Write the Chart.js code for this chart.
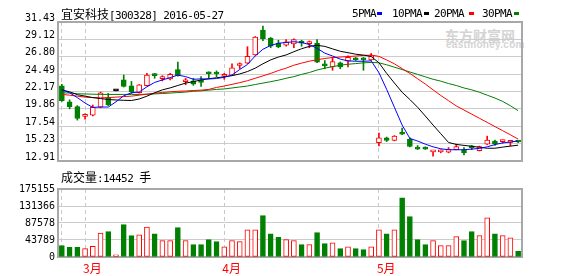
<!DOCTYPE html>
<html lang="zh-CN">
<head>
<meta charset="UTF-8">
<title>宜安科技[300328] 日K</title>
<style>
  body { margin: 0; background: #fff; }
  .wrap { position: relative; width: 578px; height: 276px; overflow: hidden; background: #fff; }
  .wrap canvas { position: absolute; left: 0; }
  .txt { position: absolute; white-space: nowrap; line-height: 12px; color: #000; }
  .cjk { font-family: "Noto Sans CJK SC"; font-size: 12px; }
  .asc { font-family: "DejaVu Sans Mono"; font-size: 11px; letter-spacing: -0.6px; }
  .mk { position: absolute; width: 5px; height: 3px; top: 12px; }
  .wm1 { position: absolute; left: 445px; top: 25px; font: bold 14px "Noto Sans CJK SC"; color: #d4d4d4; }
  .wm2 { position: absolute; left: 446px; top: 39px; font: bold 10px "Liberation Sans"; color: #d4d4d4; letter-spacing: 0.3px; }
</style>
</head>
<body>

<div class="wrap">
  <div class="wm1">东方财富网</div>
  <div class="wm2">eastmoney.com</div>

  <canvas id="kline" width="578" height="170" style="top:0"></canvas>
  <canvas id="volume" width="578" height="96" style="top:180px"></canvas>

  <div class="txt" style="left:61px;top:8px"><span class="cjk">宜安科技</span><span class="asc">[300328] 2016-05-27</span></div>

  <div class="txt asc" style="left:352px;top:8px">5PMA</div>
  <div class="mk" style="left:377px;background:#0000ff"></div>
  <div class="txt asc" style="left:392px;top:8px">10PMA</div>
  <div class="mk" style="left:424px;background:#000000"></div>
  <div class="txt asc" style="left:434px;top:8px">20PMA</div>
  <div class="mk" style="left:469px;background:#ff0000"></div>
  <div class="txt asc" style="left:482px;top:8px">30PMA</div>
  <div class="mk" style="left:514px;background:#008000"></div>

  <div class="txt" style="left:61px;top:171px"><span class="cjk">成交量</span><span class="asc" id="volText">:14452 </span><span class="cjk">手</span></div>
</div>

<script src="https://cdn.jsdelivr.net/npm/chart.js"></script>

<script>
// 60 trading days, month starts marked
var monthLabels = ['', '', '', '3月', '', '', '', '', '', '', '', '', '', '', '', '', '', '', '', '', '',
  '4月', '', '', '', '', '', '', '', '', '', '', '', '', '', '', '', '', '', '', '',
  '5月', '', '', '', '', '', '', '', '', '', '', '', '', '', '', '', '', '', ''];
var monthLines = [0, 3, 21, 41];

var openP  = [22.94, 20.81, 20.16, 18.85, 19.01, 20.07, 21.36, 22.25, 23.71, 22.94,
              22.00, 22.94, 24.36, 23.88, 23.84, 25.09, 23.47, 23.59, 23.67, 24.62,
              24.58, 24.20, 24.36, 25.64, 25.95, 27.06, 30.36, 29.29, 28.60, 28.34,
              28.52, 28.70, 28.55, 28.60, 25.65, 25.44, 25.99, 26.21, 26.60, 26.45,
              26.38, 15.35, 15.99, 15.66, 16.55, 15.79, 14.55, 14.76, 14.12, 14.12,
              14.07, 14.41, 14.41, 14.75, 14.29, 15.15, 15.57, 15.50, 15.40, 15.50];
var highP  = [23.12, 21.06, 20.29, 19.21, 20.37, 22.09, 21.91, 22.25, 24.36, 23.51,
              23.10, 24.58, 24.58, 24.28, 24.58, 26.08, 23.93, 23.93, 24.15, 24.79,
              24.92, 24.58, 25.86, 25.99, 28.14, 29.50, 30.88, 29.37, 29.00, 29.08,
              29.20, 29.00, 28.90, 29.08, 26.30, 26.72, 26.10, 26.93, 26.70, 26.70,
              27.24, 16.64, 16.10, 16.30, 17.28, 15.99, 14.97, 14.80, 14.20, 14.40,
              14.70, 15.15, 14.71, 15.00, 14.90, 16.22, 15.70, 15.70, 15.50, 15.55];
var lowP   = [20.85, 19.86, 18.36, 18.49, 18.92, 20.00, 20.29, 22.25, 22.77, 21.91,
              21.95, 22.90, 23.93, 23.58, 23.71, 24.20, 23.07, 23.00, 22.86, 23.93,
              24.15, 23.80, 24.30, 25.22, 25.90, 27.00, 28.95, 28.00, 28.00, 28.20,
              28.01, 28.20, 28.00, 26.00, 25.20, 25.00, 25.20, 25.44, 26.30, 25.00,
              26.30, 14.93, 15.50, 15.60, 16.42, 14.80, 14.45, 14.45, 13.55, 14.00,
              14.00, 14.40, 13.73, 14.41, 14.25, 15.10, 14.97, 15.30, 14.93, 15.35];
var closeP = [20.94, 20.16, 18.57, 18.92, 20.07, 22.00, 20.37, 22.25, 22.86, 22.13,
              23.07, 24.36, 24.28, 23.97, 24.45, 24.28, 23.55, 23.16, 23.38, 24.54,
              24.50, 24.30, 25.31, 25.86, 26.85, 29.42, 29.21, 28.21, 28.10, 28.78,
              29.08, 28.60, 28.65, 26.08, 25.58, 26.16, 25.44, 26.72, 26.40, 26.38,
              26.93, 15.99, 15.66, 16.22, 16.48, 14.84, 14.50, 14.50, 14.18, 14.20,
              14.50, 14.84, 13.98, 14.68, 14.84, 15.70, 15.19, 15.56, 15.46, 15.44];

var ma5  = [22.40, 22.00, 21.36, 20.63, 20.05, 20.10, 20.10, 20.80, 21.60, 22.00,
            22.10, 22.80, 23.38, 23.71, 24.02, 24.36, 24.15, 23.80, 23.85, 23.84,
            23.90, 24.06, 24.36, 25.10, 25.77, 26.90, 27.80, 28.30, 28.60, 28.70,
            28.80, 28.70, 28.43, 27.92, 27.28, 26.90, 26.48, 26.25, 26.20, 26.20,
            26.25, 24.68, 22.45, 20.07, 17.70, 15.92, 15.57, 15.15, 14.80, 14.54,
            14.41, 14.41, 14.41, 14.50, 14.58, 14.80, 15.10, 15.32, 15.44, 15.57];
var ma10 = [22.37, 22.13, 21.75, 21.55, 21.36, 21.23, 21.10, 21.04, 21.00, 20.97,
            21.17, 21.55, 22.00, 22.39, 22.65, 22.97, 23.29, 23.48, 23.71, 23.87,
            24.00, 24.13, 24.28, 24.51, 24.83, 25.28, 25.86, 26.38, 26.76, 27.04,
            27.47, 27.87, 28.18, 28.33, 28.18, 27.85, 27.53, 27.34, 27.14, 27.02,
            26.83, 26.00, 24.58, 23.30, 22.07, 21.10, 20.07, 18.90, 17.70, 16.54,
            15.38, 15.12, 14.99, 14.87, 14.74, 14.61, 14.61, 14.76, 14.89, 15.02];
var ma20 = [21.79, 21.68, 21.55, 21.42, 21.36, 21.32, 21.36, 21.42, 21.49, 21.55,
            21.68, 21.81, 21.94, 22.04, 22.13, 22.20, 22.24, 22.30, 22.35, 22.45,
            22.71, 22.90, 23.12, 23.35, 23.61, 23.93, 24.25, 24.58, 24.96, 25.28,
            25.67, 25.95, 26.21, 26.40, 26.57, 26.70, 26.76, 26.83, 26.89, 26.98,
            27.02, 26.85, 26.37, 25.86, 25.22, 24.58, 23.87, 23.16, 22.39, 21.64,
            20.95, 20.25, 19.70, 19.15, 18.60, 18.05, 17.50, 16.95, 16.40, 15.83];
var ma30 = [22.00, 21.96, 21.87, 21.84, 21.81, 21.78, 21.78, 21.78, 21.78, 21.78,
            21.78, 21.81, 21.85, 21.90, 21.96, 22.03, 22.09, 22.20, 22.26, 22.35,
            22.45, 22.51, 22.64, 22.77, 22.90, 23.10, 23.29, 23.48, 23.68, 23.93,
            24.15, 24.45, 24.70, 25.03, 25.28, 25.48, 25.67, 25.80, 25.89, 25.99,
            26.05, 25.99, 25.73, 25.41, 25.09, 24.77, 24.45, 24.12, 23.80, 23.55,
            23.23, 22.97, 22.64, 22.39, 22.07, 21.68, 21.30, 20.85, 20.27, 19.62];

var volumes = [29100, 24700, 24700, 21400, 27300, 61800, 65200, 5900, 83200, 54900,
               57400, 77300, 60000, 42000, 42000, 75500, 42000, 31700, 31700, 44600,
               39400, 26500, 42000, 39400, 70300, 70300, 106400, 60000, 50500, 44600,
               42000, 31700, 31700, 62600, 34300, 36800, 21400, 26500, 21400, 18800,
               26500, 70300, 60000, 70300, 152700, 103800, 44600, 31700, 42000, 29100,
               29100, 52300, 42000, 65200, 54900, 101200, 60000, 54900, 49700, 14452];

var priceTicks = [12.91, 15.225, 17.54, 19.855, 22.17, 24.485, 26.80, 29.115, 31.43];
var priceTickLabels = ['12.91', '15.23', '17.54', '19.86', '22.17', '24.49', '26.80', '29.12', '31.43'];
var volTicks = [0, 43789, 87578, 131366, 175155];
var volTickLabels = ['0', '43789', '87578', '131366', '175155'];

var RED = '#ff0000', GREEN = '#008000';

document.getElementById('volText').textContent = ':' + volumes[volumes.length - 1] + ' ';

var candleColor = [], bodyFill = [], volColor = [], volFill = [];
for (var i = 0; i < openP.length; i++) {
  var up = closeP[i] >= openP[i];
  var c = highP[i] === lowP[i] ? '#000000' : (up ? RED : GREEN);
  candleColor.push(c);
  bodyFill.push(c === RED ? '#ffffff' : c);
  volColor.push(up ? RED : GREEN);
  volFill.push(up ? '#ffffff' : GREEN);
}
var wicks = openP.map(function (o, i) { return [lowP[i], highP[i]]; });
var bodies = openP.map(function (o, i) { return [o, closeP[i]]; });

// grey box round the plot
const frame = {
  id: 'frame',
  beforeDatasetsDraw(chart) {
    const a = chart.chartArea, ctx = chart.ctx;
    ctx.save();
    ctx.strokeStyle = '#a8a8a8';
    ctx.lineWidth = 2;
    ctx.strokeRect(a.left, a.top, a.right - a.left, a.bottom - a.top);
    ctx.restore();
  }
};

function monthGrid(ctx) {
  return monthLines.indexOf(ctx.index) >= 0 ? '#c8c8c8' : 'rgba(0,0,0,0)';
}

var monoFont = { family: 'DejaVu Sans Mono', size: 10 };

function lineSet(label, data, color) {
  return { type: 'line', label: label, data: data, borderColor: color, borderWidth: 1,
           pointRadius: 0, tension: 0, fill: false, order: 0 };
}

const kline = new Chart(document.getElementById('kline'), {
  type: 'bar',
  data: {
    labels: monthLabels,
    datasets: [
      lineSet('5PMA', ma5, '#0000ff'),
      lineSet('10PMA', ma10, '#000000'),
      lineSet('20PMA', ma20, RED),
      lineSet('30PMA', ma30, GREEN),
      { label: 'body', data: bodies, backgroundColor: bodyFill, borderColor: candleColor,
        borderWidth: 1, borderSkipped: false, barThickness: 5, minBarLength: 2, grouped: false, order: 1 },
      { label: 'wick', data: wicks, backgroundColor: candleColor, barThickness: 1, grouped: false, order: 2 }
    ]
  },
  options: {
    responsive: false,
    animation: false,
    devicePixelRatio: 1,
    events: [],
    layout: { padding: { top: 22, right: 56, left: 0, bottom: 0 } },
    plugins: { legend: { display: false }, tooltip: { enabled: false } },
    scales: {
      x: {
        offset: true,
        grid: { offset: false, drawTicks: false, color: monthGrid },
        border: { display: false, dash: [4, 3] },
        ticks: { display: false },
        afterFit: function (s) { s.height = 4; }
      },
      y: {
        min: 12.91, max: 31.43,
        afterBuildTicks: function (s) { s.ticks = priceTicks.map(function (v) { return { value: v }; }); },
        afterFit: function (s) { s.width = 58; },
        grid: { color: '#cccccc', drawTicks: false },
        border: { display: false },
        ticks: {
          callback: function (v, i) { return priceTickLabels[i]; },
          font: monoFont, color: '#000', padding: 3, labelOffset: -4
        }
      }
    }
  },
  plugins: [frame]
});

const volume = new Chart(document.getElementById('volume'), {
  type: 'bar',
  data: {
    labels: monthLabels,
    datasets: [
      { label: '成交量', data: volumes, backgroundColor: volFill, borderColor: volColor,
        borderWidth: 1, borderSkipped: false, barThickness: 5 }
    ]
  },
  options: {
    responsive: false,
    animation: false,
    devicePixelRatio: 1,
    events: [],
    layout: { padding: { top: 9, right: 56, left: 0, bottom: 0 } },
    plugins: { legend: { display: false }, tooltip: { enabled: false } },
    scales: {
      x: {
        offset: true,
        grid: { offset: false, drawTicks: false, color: monthGrid },
        border: { display: false, dash: [4, 3] },
        ticks: {
          autoSkip: false, maxRotation: 0, align: 'start', labelOffset: -2, padding: 4,
          color: RED, font: { family: 'Noto Sans CJK SC', size: 12 },
          callback: function (v, i) { return monthLabels[i]; }
        },
        afterFit: function (s) { s.height = 19; }
      },
      y: {
        min: 0, max: 175155,
        afterBuildTicks: function (s) { s.ticks = volTicks.map(function (v) { return { value: v }; }); },
        afterFit: function (s) { s.width = 58; },
        grid: { color: '#cccccc', drawTicks: false },
        border: { display: false },
        ticks: {
          callback: function (v, i) { return volTickLabels[i]; },
          font: monoFont, color: '#000', padding: 3
        }
      }
    }
  },
  plugins: [frame]
});
</script>
</body>
</html>
